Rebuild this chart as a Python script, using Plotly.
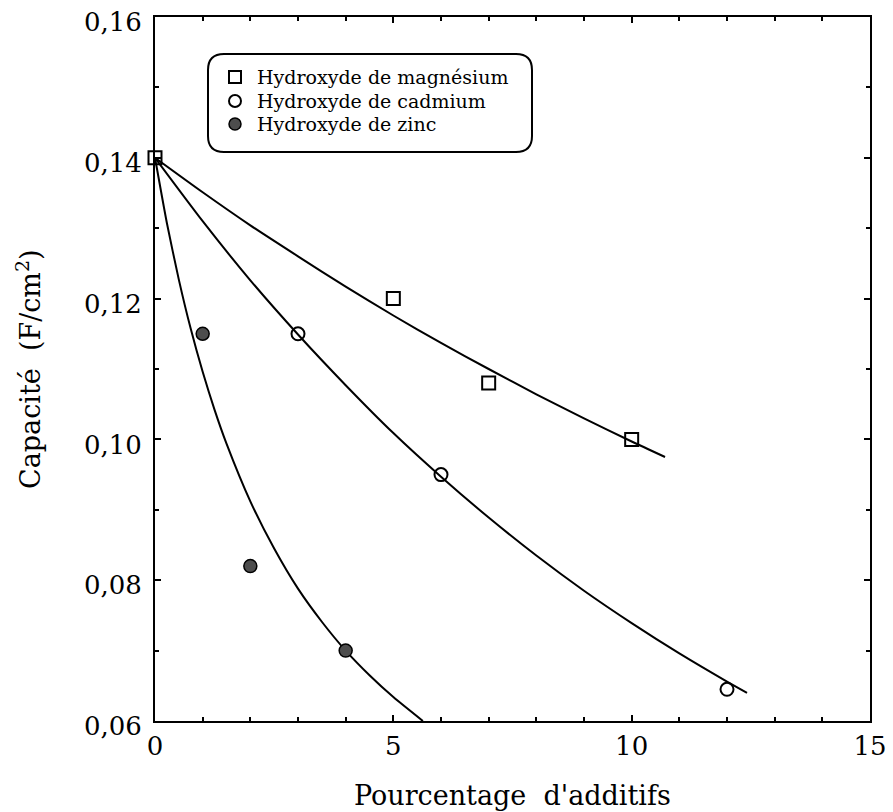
import plotly.graph_objects as go

# Measured points: capacity (F/cm2) versus additive percentage
mg_x = [0, 5, 7, 10]
mg_y = [0.140, 0.120, 0.108, 0.100]
cd_x = [3, 6, 12]
cd_y = [0.115, 0.095, 0.0645]
zn_x = [1, 2, 4]
zn_y = [0.115, 0.082, 0.070]

# Smoothed trend curves through each series
mg_fit_x = [0, 1, 2, 3, 4, 5, 6, 7, 8, 9, 10, 10.7]
mg_fit_y = [0.1400, 0.1351, 0.1304, 0.1260, 0.1217, 0.1176, 0.1137, 0.1100,
            0.1064, 0.1030, 0.0997, 0.0975]
cd_fit_x = [0, 1, 2, 3, 4, 5, 6, 7, 8, 9, 10, 11, 12, 12.42]
cd_fit_y = [0.1400, 0.1310, 0.1226, 0.1149, 0.1077, 0.1009, 0.0947, 0.0889,
            0.0835, 0.0785, 0.0739, 0.0696, 0.0656, 0.0640]
zn_fit_x = [0, 0.25, 0.5, 0.75, 1.0, 1.25, 1.5, 2.0, 2.5, 3.0, 3.5, 4.0, 4.5, 5.0, 5.62]
zn_fit_y = [0.1400, 0.1307, 0.1227, 0.1157, 0.1096, 0.1042, 0.0994, 0.0912,
            0.0845, 0.0788, 0.0741, 0.0700, 0.0665, 0.0634, 0.0600]

x_ticks = [0, 5, 10, 15]
y_ticks = [0.06, 0.08, 0.10, 0.12, 0.14, 0.16]

series_names = ["Hydroxyde de magnésium", "Hydroxyde de cadmium", "Hydroxyde de zinc"]
x_title = "Pourcentage  d'additifs"
y_title = "Capacité  (F/cm<sup>2</sup>)"

FONT = "DejaVu Serif"
W, H = 893, 812
ML, MR, MT, MB = 155, 23, 17, 91

fig = go.Figure()

line_style = dict(color="black", width=2, shape="spline", smoothing=0.6)
for fx, fy in [(mg_fit_x, mg_fit_y), (cd_fit_x, cd_fit_y), (zn_fit_x, zn_fit_y)]:
    fig.add_trace(go.Scatter(x=fx, y=fy, mode="lines", line=line_style,
                             showlegend=False, hoverinfo="skip"))

marker_styles = [
    dict(symbol="square-open", size=13, color="black", line=dict(width=2)),
    dict(symbol="circle-open", size=13, color="black", line=dict(width=2)),
    dict(symbol="circle", size=13, color="#4d4d4d", line=dict(color="black", width=1.5)),
]
for (sx, sy), name, mk in zip([(mg_x, mg_y), (cd_x, cd_y), (zn_x, zn_y)],
                              series_names, marker_styles):
    fig.add_trace(go.Scatter(x=sx, y=sy, mode="markers", name=name,
                             cliponaxis=False, marker=mk, showlegend=False))

# Key drawn on a pixel-based overlay axis pair (x2 / y2)
KEY_SWATCH_X = 235
KEY_TEXT_X = 255
KEY_ROWS_Y = [77, 101, 124]
for row_y, name, mk in zip(KEY_ROWS_Y, series_names, marker_styles):
    key_mk = dict(mk)
    key_mk["size"] = 12
    fig.add_trace(go.Scatter(x=[KEY_SWATCH_X], y=[row_y], xaxis="x2", yaxis="y2",
                             mode="markers", marker=key_mk, showlegend=False,
                             hoverinfo="skip", cliponaxis=False))
    fig.add_annotation(text=name, xref="x2", yref="y2", x=KEY_TEXT_X, y=row_y,
                       xanchor="left", yanchor="middle", showarrow=False,
                       font=dict(family=FONT, size=19, color="black"))

# Rounded frame around the key
def rounded_rect(x0, y0, x1, y1, r):
    return (f"M {x0 + r},{y0} L {x1 - r},{y0} Q {x1},{y0} {x1},{y0 + r} "
            f"L {x1},{y1 - r} Q {x1},{y1} {x1 - r},{y1} "
            f"L {x0 + r},{y1} Q {x0},{y1} {x0},{y1 - r} "
            f"L {x0},{y0 + r} Q {x0},{y0} {x0 + r},{y0} Z")

fig.add_shape(type="path", xref="x2", yref="y2",
              path=rounded_rect(208, 54, 532, 152, 16),
              line=dict(color="black", width=2), fillcolor="rgba(0,0,0,0)")

fig.update_layout(
    width=W, height=H,
    margin=dict(l=ML, r=MR, t=MT, b=MB, pad=0, autoexpand=False),
    paper_bgcolor="white", plot_bgcolor="white",
    separators=", ",
    font=dict(family=FONT, color="black"),
    showlegend=False,
    xaxis2=dict(overlaying="x", range=[ML, W - MR], visible=False,
                fixedrange=True, automargin=False),
    yaxis2=dict(overlaying="y", range=[H - MB, MT], visible=False,
                fixedrange=True, automargin=False),
)

axis_common = dict(showline=True, linecolor="black", linewidth=2, mirror="allticks",
                   showgrid=False, zeroline=False, ticks="inside", ticklen=6,
                   tickwidth=1.5, tickcolor="black", automargin=False,
                   tickfont=dict(family=FONT, size=26, color="black"))

fig.layout.xaxis.update(range=[0, 15], tickmode="array", tickvals=x_ticks,
                        ticklabelstandoff=1,
                        minor=dict(tick0=0, dtick=1, ticks="inside", ticklen=4,
                                   tickwidth=1.5, tickcolor="black", showgrid=False),
                        **axis_common)
fig.layout.yaxis.update(range=[0.06, 0.16], tickmode="array", tickvals=y_ticks,
                        tickformat=".2f", ticklabelstandoff=6, ticklabelshift=5,
                        minor=dict(tick0=0.06, dtick=0.01, ticks="inside", ticklen=4,
                                   tickwidth=1.5, tickcolor="black", showgrid=False),
                        **axis_common)

fig.add_annotation(text=x_title, xref="paper", yref="paper", x=0.5, y=0,
                   xanchor="center", yanchor="middle", yshift=-(795 - (H - MB)),
                   showarrow=False, font=dict(family=FONT, size=27, color="black"))
fig.add_annotation(text=y_title, xref="paper", yref="paper", x=0, y=0.5,
                   xanchor="center", yanchor="middle", xshift=28 - ML, textangle=-90,
                   showarrow=False, font=dict(family=FONT, size=27, color="black"))

fig.write_html("out.html")
